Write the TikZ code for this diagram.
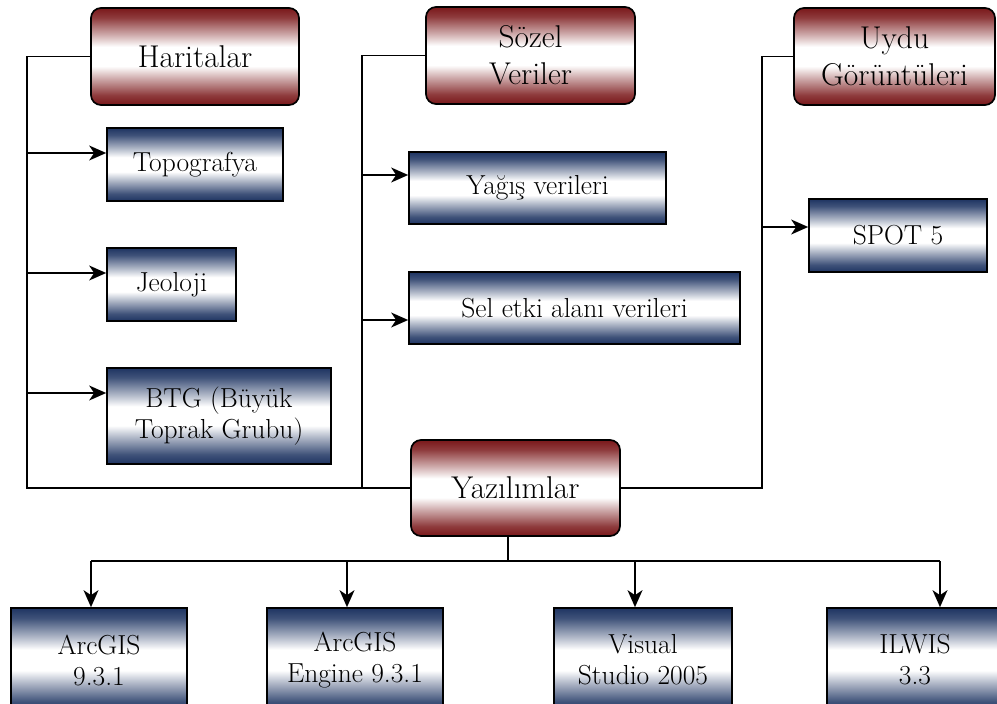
\documentclass[tikz,border=0pt]{standalone}
\usetikzlibrary{arrows.meta}
\definecolor{boxred}{RGB}{122,24,26}
\definecolor{boxblue}{RGB}{30,52,98}
\pgfdeclareverticalshading{redband}{100bp}{color(0bp)=(boxred); color(25bp)=(boxred); color(30bp)=(boxred!85); color(39bp)=(boxred!35); color(45bp)=(white); color(55bp)=(white); color(61bp)=(boxred!35); color(70bp)=(boxred!85); color(75bp)=(boxred); color(100bp)=(boxred)}
\pgfdeclareverticalshading{blueband}{100bp}{color(0bp)=(boxblue); color(25bp)=(boxblue); color(30bp)=(boxblue!85); color(39bp)=(boxblue!35); color(45bp)=(white); color(55bp)=(white); color(61bp)=(boxblue!35); color(70bp)=(boxblue!85); color(75bp)=(boxblue); color(100bp)=(boxblue)}

\begin{document}
\begin{tikzpicture}[x=1pt,y=-1pt,line width=1.5pt,
    headbox/.style={draw,line width=1.7pt,rounded corners=10pt,shading=redband,align=center,inner sep=0pt,font=\fontsize{31.5}{37}\selectfont},
    itembox/.style={draw,line width=1.7pt,shading=blueband,align=center,inner sep=0pt,font=\fontsize{27.5}{31}\selectfont},
    arr/.style={-{Stealth[length=17pt,width=15pt,inset=5pt]}} ]
    \useasboundingbox (0,0) rectangle (997,704);
    \clip (0,0) rectangle (997,704);
    % main groups
    \node at (195,56.5) [headbox,minimum width=208,minimum height=97] (har) {Haritalar};
    \node at (530.5,55.5) [headbox,minimum width=209,minimum height=97] (soz) {Sözel\\Veriler};
    \node at (894.5,56.5) [headbox,minimum width=201,minimum height=97] (uydu) {Uydu\\Görüntüleri};
    \node at (515.5,488) [headbox,minimum width=209,minimum height=96] (yaz) {Yazılımlar};
    % data items
    \node at (195,164.5) [itembox,minimum width=176,minimum height=73] (topo) {Topografya};
    \node at (171.5,284.5) [itembox,minimum width=129,minimum height=73] (jeo) {Jeoloji};
    \node at (219,416) [itembox,minimum width=224,minimum height=96] (btg) {BTG (Büyük\\Toprak Grubu)};
    \node at (537.5,188) [itembox,minimum width=257,minimum height=72] (yag) {Yağış verileri};
    \node at (574.5,308) [itembox,minimum width=331,minimum height=72] (sel) {Sel etki alanı verileri};
    \node at (898,235.5) [itembox,minimum width=178,minimum height=73] (spot) {SPOT 5};
    % software
    \node at (99,660) [itembox,minimum width=176,minimum height=104] (arc) {ArcGIS\\9.3.1};
    \node at (355,660) [itembox,minimum width=176,minimum height=104] (eng) {ArcGIS\\Engine 9.3.1};
    \node at (643,660) [itembox,minimum width=178,minimum height=104] (vis) {Visual\\Studio 2005};
    \node at (915,660) [itembox,minimum width=176,minimum height=104] (ilw) {ILWIS\\3.3};
    \coordinate (lt) at (27,488);
    \coordinate (mt) at (362,488);
    \coordinate (rt) at (762,488);
    \coordinate (bl) at (91,561);
    \coordinate (br) at (940,561);
    \draw [-] (har.west) -| (lt) -- (yaz.west);
    \draw [-] (soz.west) -| (mt);
    \draw [-] (uydu.west) -| (rt) -- (yaz.east);
    \foreach \n/\s in {topo/11.5,jeo/11.5,btg/23}
      \draw [arr] ([yshift=\s pt]\n.west -| lt) -- ([yshift=\s pt]\n.west);
    \foreach \n/\s in {yag/13,sel/-12}
      \draw [arr] ([yshift=\s pt]\n.west -| mt) -- ([yshift=\s pt]\n.west);
    \draw [arr] ([yshift=8.5pt]spot.west -| rt) -- ([yshift=8.5pt]spot.west);
    \draw [-] ([xshift=-7.5pt]yaz.south) -- ([xshift=-7.5pt]yaz.south |- bl);
    \draw [-] (bl) -- (br);
    \foreach \n/\s in {arc/-8,eng/-8,vis/-8,ilw/25}
      \draw [arr] ([xshift=\s pt]\n.north |- bl) -- ([xshift=\s pt]\n.north);
    \end{tikzpicture}
\end{document}
